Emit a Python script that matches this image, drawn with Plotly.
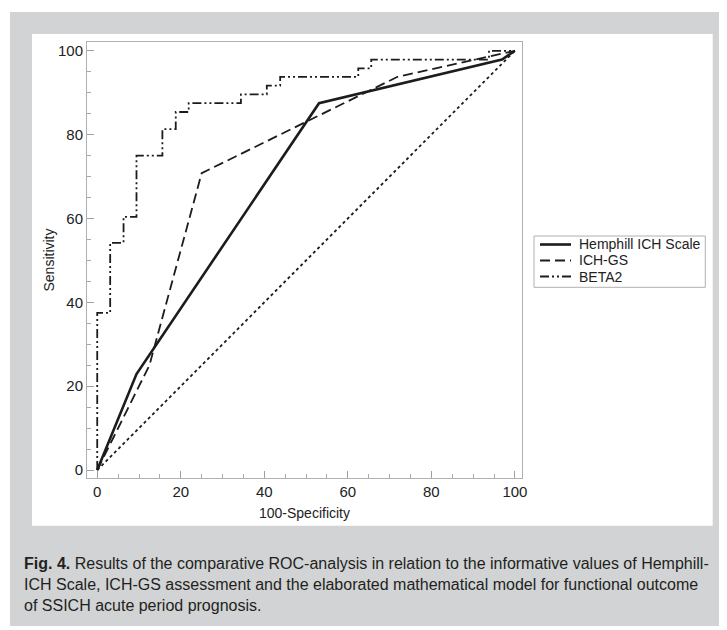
import plotly.graph_objects as go

# ROC curves (100-Specificity, Sensitivity)
hemphill_x = [0, 9.4, 53.1, 96.9, 100]
hemphill_y = [0, 22.9, 87.5, 97.9, 100]

ichgs_x = [0, 12.5, 25.0, 71.9, 100]
ichgs_y = [0, 25.0, 70.8, 93.8, 100]

# step curve corners (drawn with line_shape 'hv')
beta2_x = [0, 0, 3.1, 6.3, 9.4, 15.6, 18.8, 21.9, 34.4, 40.6, 43.8, 62.5, 65.6, 93.8, 100]
beta2_y = [0, 37.5, 54.2, 60.4, 75.0, 81.3, 85.4, 87.5, 89.6, 91.7, 93.8, 95.8, 97.9, 100, 100]

diag_x = [0, 100]
diag_y = [0, 100]

tick_vals = [0, 20, 40, 60, 80, 100]
tick_text = ["0", "20", "40", "60", "80", "100"]

series_names = ["Hemphill ICH Scale", "ICH-GS", "BETA2"]

caption = ("<b>Fig. 4.</b> Results of the comparative ROC-analysis in relation to the informative values of Hemphill-<br>"
           "ICH Scale, ICH-GS assessment and the elaborated mathematical model for functional outcome<br>"
           "of SSICH acute period prognosis.")

# the page body has an 8px margin, so the figure is laid out 8px smaller
# and all pixel positions below are given in window pixels, minus OFF
OFF = 8
W, H = 727 - OFF, 630 - OFF
ml, mt, pw, ph = 87 - OFF, 42 - OFF, 435, 436
mr = W - ml - pw
mb = H - mt - ph


def px_x(p):
    return (p - OFF - ml) / pw


def px_y(p):
    return (mt + ph - (p - OFF)) / ph


ink = "#1c1c1c"
styles = [dict(color=ink, width=2.6),
          dict(color=ink, width=1.8, dash="10px,5px"),
          dict(color=ink, width=1.8, dash="9px,3px,2px,3px,2px,3px")]

fig = go.Figure()
fig.add_trace(go.Scatter(x=hemphill_x, y=hemphill_y, mode="lines", name=series_names[0], line=styles[0]))
fig.add_trace(go.Scatter(x=ichgs_x, y=ichgs_y, mode="lines", name=series_names[1], line=styles[1]))
fig.add_trace(go.Scatter(x=beta2_x, y=beta2_y, mode="lines", name=series_names[2], line_shape="hv",
                         line=styles[2]))
fig.add_trace(go.Scatter(x=diag_x, y=diag_y, mode="lines", name="reference",
                         line=dict(color=ink, width=1.8, dash="3px,3px")))

# grey frame + white panel behind the chart
fig.add_shape(type="rect", xref="paper", yref="paper", layer="below",
              x0=px_x(10), x1=px_x(740), y0=px_y(626), y1=px_y(12),
              fillcolor="#d1d3d4", line_width=0)
fig.add_shape(type="rect", xref="paper", yref="paper", layer="below",
              x0=px_x(32), x1=px_x(712.7), y0=px_y(525.7), y1=px_y(34),
              fillcolor="white", line_width=0)

# compact legend box (rows tighter than plotly's own legend allows)
fig.add_shape(type="rect", xref="paper", yref="paper",
              x0=px_x(534), x1=px_x(705.3), y0=px_y(287.3), y1=px_y(236),
              fillcolor="rgba(0,0,0,0)", line=dict(color="#b0b0b0", width=1))
for i, name in enumerate(series_names):
    row = 244.5 + 16 * i
    fig.add_shape(type="line", xref="paper", yref="paper",
                  x0=px_x(540), x1=px_x(571), y0=px_y(row), y1=px_y(row), line=styles[i])
    fig.add_annotation(text=name, xref="paper", yref="paper", x=px_x(577), y=px_y(row),
                       xanchor="left", yanchor="middle", showarrow=False,
                       font=dict(family="Liberation Sans, Arial", size=14, color="#222"))

fig.add_annotation(text=caption, xref="paper", yref="paper", x=px_x(22), y=px_y(553),
                   xanchor="left", yanchor="top", align="left", showarrow=False,
                   font=dict(family="Liberation Sans, Arial", size=16, color="#231f20"))

axis_common = dict(showline=True, linecolor="#b0b0b0", linewidth=1, mirror=True,
                   showgrid=False, zeroline=False, ticks="inside", ticklen=7, tickcolor="#a0a0a0",
                   tickvals=tick_vals, ticktext=tick_text,
                   tickfont=dict(family="Liberation Sans, Arial", size=15, color="#222"),
                   minor=dict(ticks="inside", ticklen=4, tickcolor="#a8a8a8", dtick=5, tick0=0))

fig.update_xaxes(range=[-2.45, 101.7],
                 title=dict(text="100-Specificity", font=dict(size=14, color="#222"), standoff=9),
                 **axis_common)
fig.update_yaxes(range=[-1.9, 102.1],
                 title=dict(text="Sensitivity", font=dict(size=14, color="#222"), standoff=0),
                 **axis_common)

fig.update_layout(
    width=W, height=H,
    margin=dict(l=ml, r=mr, t=mt, b=mb, autoexpand=False),
    paper_bgcolor="white", plot_bgcolor="white",
    font=dict(family="Liberation Sans, Arial", color="#222"),
    showlegend=False,
)

fig.write_html("out.html")
